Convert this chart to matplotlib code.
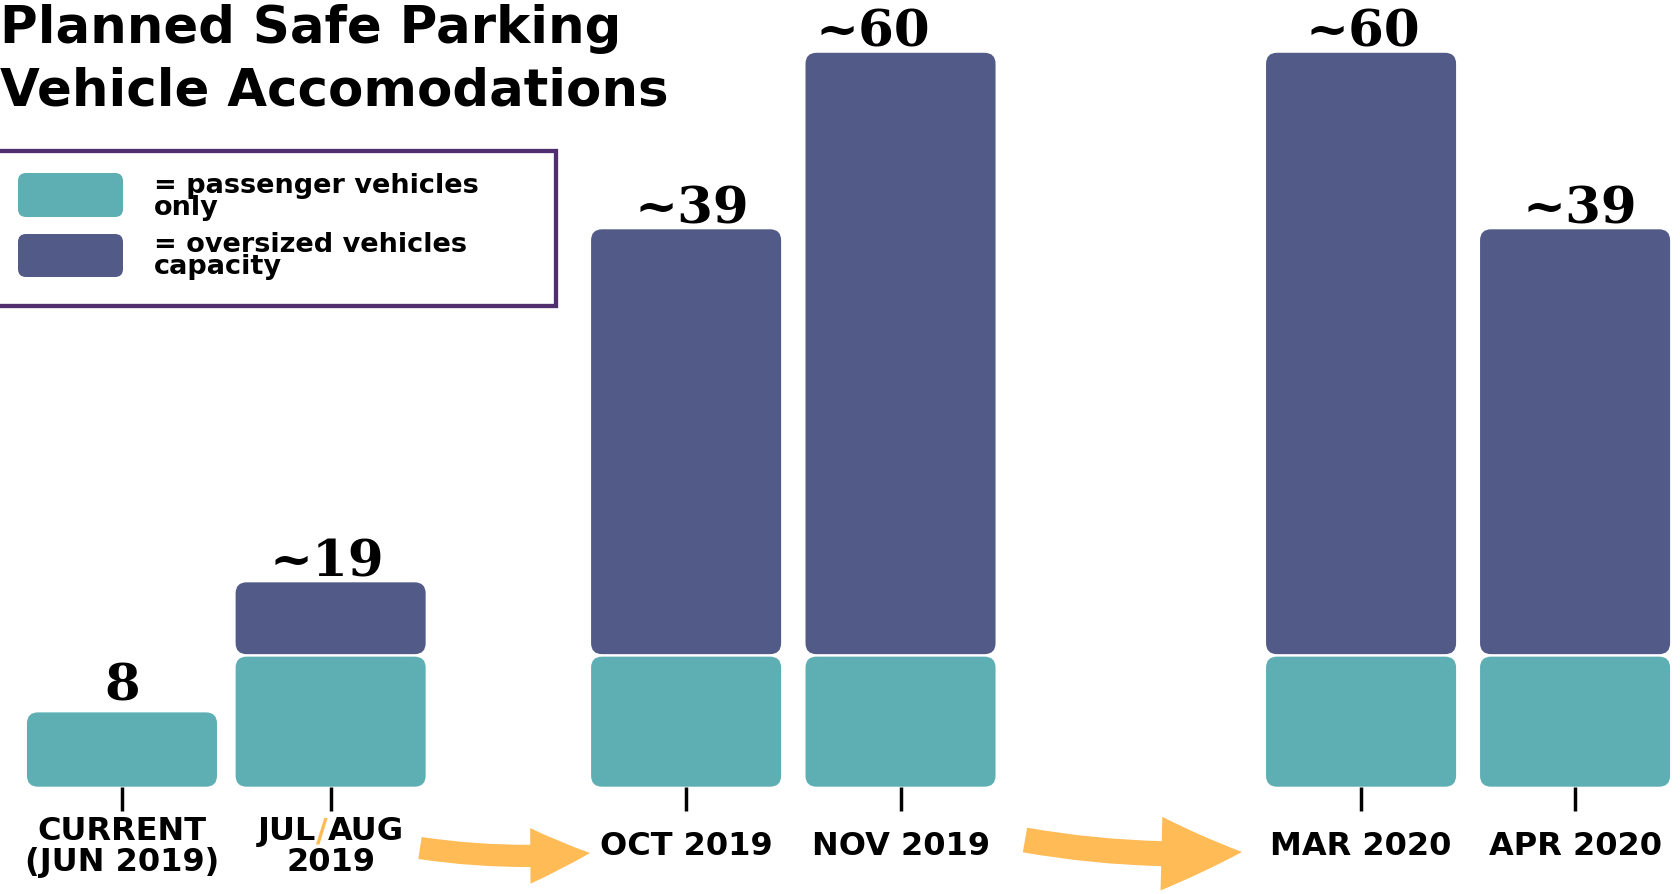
import matplotlib
matplotlib.use("Agg")
import matplotlib.pyplot as plt
from matplotlib.patches import FancyBboxPatch, Rectangle, FancyArrowPatch

# ---------------- data ----------------
categories = ["CURRENT\n(JUN 2019)", "JUL/AUG\n2019", "OCT 2019", "NOV 2019", "MAR 2020", "APR 2020"]
# drawn segment heights (infographic is not to scale)
passenger = [8, 14, 14, 14, 14, 14]
oversized = [0, 8, 46, 65, 65, 46]
value_labels = ["8", "~19", "~39", "~60", "~60", "~39"]
legend_labels = ["= passenger vehicles\nonly", "= oversized vehicles\ncapacity"]
title_lines = ["Planned Safe Parking", "Vehicle Accomodations"]

# ---------------- layout / style ----------------
x_pos = [0, 0.975, 2.636, 3.638, 5.79, 6.79]
bar_w = 0.888
W, H, DPI = 1681, 894, 100
TEAL = "#5EAFB4"
PURPLE = "#525A87"
FRAME = "#4F2F6E"
ORANGE = "#FFBB55"
SANS = "DejaVu Sans"
SERIF = "DejaVu Serif"
PT = 72.0 / DPI  # points per pixel

fig = plt.figure(figsize=(W / DPI, H / DPI), dpi=DPI)
fig.patch.set_facecolor("white")

base_px = 786.7
px_per_y = 9.29
xlim = (-0.570, 7.285)
ax = fig.add_axes([0, (H - base_px) / H, 1, base_px / H])
ax.set_xlim(*xlim)
ax.set_ylim(0, base_px / px_per_y)
ax.patch.set_alpha(0)
for s in ax.spines.values():
    s.set_visible(False)
ax.set_yticks([])
ax.set_xticks(x_pos)
ax.set_xticklabels([""] * len(x_pos))
ax.tick_params(axis="x", length=17.5, width=2.5, color="black", direction="out")

px_per_x = W / (xlim[1] - xlim[0])
asp = px_per_x / px_per_y

# ---------------- bars ----------------
bars_p = ax.bar(x_pos, passenger, width=bar_w, color=TEAL)
bars_o = ax.bar(x_pos, oversized, width=bar_w, bottom=passenger, color=PURPLE)

r_px = 11
gap_units = 2.5 / px_per_y


def round_bar(rect, color, gap=0.0):
    x, y = rect.get_x(), rect.get_y()
    w, h = rect.get_width(), rect.get_height()
    rect.set_visible(False)
    if h <= 0:
        return
    p = FancyBboxPatch((x, y + gap), w, h - gap,
                       boxstyle=f"round,pad=0,rounding_size={r_px / px_per_x}",
                       mutation_aspect=asp, facecolor=color, edgecolor="none")
    ax.add_patch(p)


for r in bars_p:
    round_bar(r, TEAL)
for r in bars_o:
    round_bar(r, PURPLE, gap_units)

# ---------------- value labels ----------------
label_offsets_px = [(0, 12), (-4, 6), (6, 6), (-28, 6), (2, 6), (5, 6)]
for x, p, o, lab, (dx, dy) in zip(x_pos, passenger, oversized, value_labels, label_offsets_px):
    ax.annotate(lab, xy=(x, p + o), xytext=(dx * PT, dy * PT), textcoords="offset points",
                ha="center", va="baseline", fontfamily=SERIF, fontweight="bold",
                fontsize=37, color="black")

# ---------------- category labels ----------------
cat_kw = dict(fontfamily=SANS, fontweight="bold", fontsize=23, color="black")
fig.canvas.draw()
renderer = fig.canvas.get_renderer()


def text_width(s, **kw):
    t = fig.text(0, 0, s, **kw)
    w = t.get_window_extent(renderer).width
    t.remove()
    return w


for x, cat in zip(x_pos, categories):
    xc_px = ax.transData.transform((x, 0))[0]
    lines = cat.split("\n")
    if len(lines) == 1:
        fig.text(xc_px / W, 1 - 855 / H, lines[0], ha="center", va="baseline", **cat_kw)
        continue
    first, second = lines
    y1 = 1 - 840 / H
    y2 = 1 - 871 / H
    if "/" in first:
        parts = first.split("/")
        pieces = [(parts[0], "black"), ("/", ORANGE), (parts[1], "black")]
        widths = [text_width(s, **cat_kw) for s, _ in pieces]
        x0 = xc_px - sum(widths) / 2
        for (s, c), w in zip(pieces, widths):
            kw = dict(cat_kw)
            kw["color"] = c
            fig.text(x0 / W, y1, s, ha="left", va="baseline", **kw)
            x0 += w
    else:
        fig.text(xc_px / W, y1, first, ha="center", va="baseline", **cat_kw)
    fig.text(xc_px / W, y2, second, ha="center", va="baseline", **cat_kw)

# ---------------- title ----------------
title_kw = dict(fontfamily=SANS, fontweight="bold", fontsize=37, color="black")
fig.text(0.5 / W, 1 - 43 / H, title_lines[0], ha="left", va="baseline", **title_kw)
fig.text(0.5 / W, 1 - 106 / H, title_lines[1], ha="left", va="baseline", **title_kw)

# ---------------- legend (manual) ----------------
frame_lw_px = 4.3
fig.add_artist(Rectangle(((-10 + frame_lw_px / 2) / W, 1 - (308 - frame_lw_px / 2) / H),
                         (568 - frame_lw_px) / W, (159 - frame_lw_px) / H,
                         transform=fig.transFigure, facecolor="white", edgecolor=FRAME,
                         linewidth=frame_lw_px * PT))
patch_boxes = [(18, 173, 123, 217), (18, 234, 123, 277)]
for (l, t, rgt, b), col in zip(patch_boxes, [TEAL, PURPLE]):
    fig.add_artist(FancyBboxPatch((l / W, 1 - b / H), (rgt - l) / W, (b - t) / H,
                                  boxstyle=f"round,pad=0,rounding_size={8 / W}",
                                  mutation_aspect=W / H, transform=fig.transFigure,
                                  facecolor=col, edgecolor="none"))
leg_kw = dict(fontfamily=SANS, fontweight="bold", fontsize=19.5, color="black")
leg_last_baselines = [215, 274]
for lab, b_last in zip(legend_labels, leg_last_baselines):
    fig.text(154 / W, 1 - b_last / H, lab, ha="left", va="baseline", linespacing=0.8, **leg_kw)

# ---------------- arrows ----------------
arrows = [
    ((420, 848), (590, 853), 43, 40, 16),
    ((1025, 840), (1242, 852), 58, 53, 18),
]
for (xa, ya), (xb, yb), hl, hw, tw in arrows:
    fig.add_artist(FancyArrowPatch((xa / W, 1 - ya / H), (xb / W, 1 - yb / H),
                                   transform=fig.transFigure,
                                   arrowstyle=f"simple,head_length={hl},head_width={hw},tail_width={tw}",
                                   connectionstyle="arc3,rad=0.06", mutation_scale=1,
                                   shrinkA=0, shrinkB=0, color=ORANGE, linewidth=0))

fig.savefig("out.png", dpi=DPI, facecolor="white")
